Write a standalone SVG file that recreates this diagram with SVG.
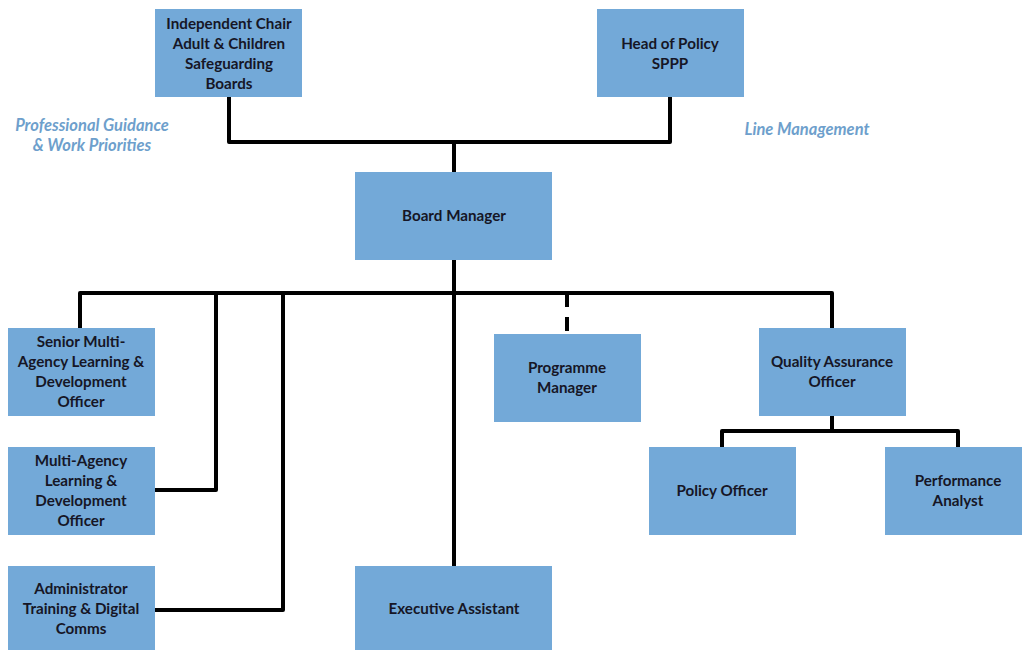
<svg xmlns="http://www.w3.org/2000/svg" width="1022" height="650" viewBox="0 0 1022 650">
<style>
.box{fill:#73a9d8;}
.t{font-family:Lato,"Open Sans","Liberation Sans",sans-serif;font-weight:bold;font-size:15.2px;fill:#161626;text-anchor:middle;}
.lbl{font-family:Lato,"Open Sans","Liberation Sans",sans-serif;font-weight:bold;font-style:italic;font-size:16.5px;fill:#6e9fcc;text-anchor:middle;}
.c{fill:none;stroke:#000;stroke-width:4;stroke-linejoin:round;}
</style>
<rect width="1022" height="650" fill="#fff"/>
<g id="connectors">
<path class="c" d="M229 97 V142 H670 V97"/>
<path class="c" d="M454 142 V172"/>
<path class="c" d="M454 260 V566"/>
<path class="c" d="M80 328 V293 H832 V328"/>
<path class="c" d="M216 293 V490 H155"/>
<path class="c" d="M283 293 V610 H155"/>
<path class="c" d="M567 293 V334" stroke-dasharray="14 10"/>
<path class="c" d="M722 447 V431 H958 V447"/>
<path class="c" d="M832 416 V431"/>
</g>
<g id="labels">
<text class="lbl" x="92" y="131">Professional Guidance</text>
<text class="lbl" x="92" y="151">&amp; Work Priorities</text>
<text class="lbl" x="807" y="135">Line Management</text>
</g>
<g id="independent-chair">
<rect class="box" x="155" y="9" width="147" height="88"/>
<text class="t" x="229" y="29">Independent Chair</text>
<text class="t" x="229" y="49">Adult &amp; Children</text>
<text class="t" x="229" y="69">Safeguarding</text>
<text class="t" x="229" y="89">Boards</text>
</g>
<g id="head-of-policy">
<rect class="box" x="597" y="9" width="147" height="88"/>
<text class="t" x="670" y="49">Head of Policy</text>
<text class="t" x="670" y="69">SPPP</text>
</g>
<g id="board-manager">
<rect class="box" x="355" y="172" width="197" height="88"/>
<text class="t" x="454" y="221">Board Manager</text>
</g>
<g id="senior-mald">
<rect class="box" x="8" y="328" width="147" height="88"/>
<text class="t" x="81" y="347">Senior Multi-</text>
<text class="t" x="81" y="367">Agency Learning &amp;</text>
<text class="t" x="81" y="387">Development</text>
<text class="t" x="81" y="407">Officer</text>
</g>
<g id="mald">
<rect class="box" x="8" y="447" width="147" height="88"/>
<text class="t" x="81" y="466">Multi-Agency</text>
<text class="t" x="81" y="486">Learning &amp;</text>
<text class="t" x="81" y="506">Development</text>
<text class="t" x="81" y="526">Officer</text>
</g>
<g id="administrator">
<rect class="box" x="8" y="566" width="147" height="90"/>
<text class="t" x="81" y="594">Administrator</text>
<text class="t" x="81" y="614">Training &amp; Digital</text>
<text class="t" x="81" y="634">Comms</text>
</g>
<g id="programme-manager">
<rect class="box" x="494" y="334" width="147" height="88"/>
<text class="t" x="567" y="373">Programme</text>
<text class="t" x="567" y="393">Manager</text>
</g>
<g id="quality-assurance">
<rect class="box" x="759" y="328" width="147" height="88"/>
<text class="t" x="832" y="367">Quality Assurance</text>
<text class="t" x="832" y="387">Officer</text>
</g>
<g id="policy-officer">
<rect class="box" x="649" y="447" width="147" height="88"/>
<text class="t" x="722" y="496">Policy Officer</text>
</g>
<g id="performance-analyst">
<rect class="box" x="885" y="447" width="147" height="88"/>
<text class="t" x="958" y="486">Performance</text>
<text class="t" x="958" y="506">Analyst</text>
</g>
<g id="executive-assistant">
<rect class="box" x="355" y="566" width="197" height="90"/>
<text class="t" x="454" y="614">Executive Assistant</text>
</g>
</svg>
